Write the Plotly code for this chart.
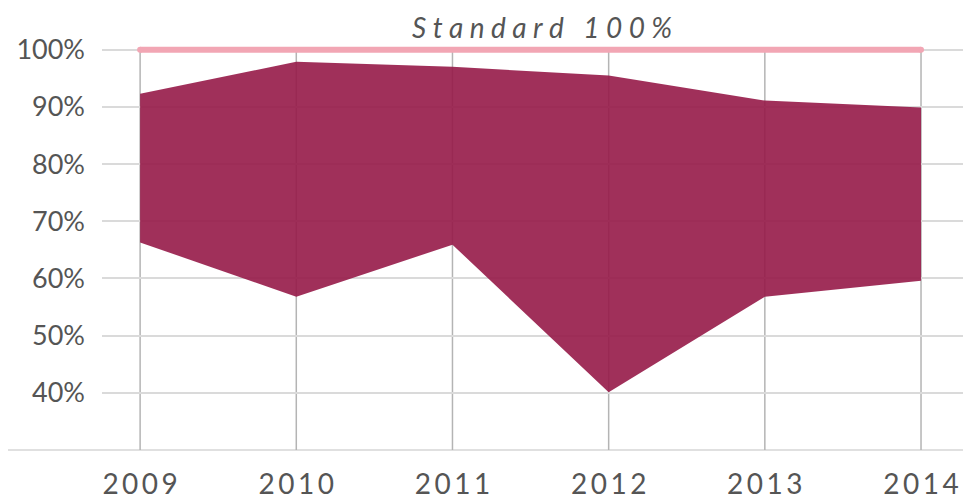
import plotly.graph_objects as go

years = [2009, 2010, 2011, 2012, 2013, 2014]
upper = [92.3, 97.9, 97.0, 95.5, 91.1, 89.9]
lower = [66.3, 56.8, 65.9, 40.1, 56.8, 59.6]
standard = 100
y_ticks = [40, 50, 60, 70, 80, 90, 100]
y_min = 30

TS1 = "\u2009"
TS2 = "\u2009\u2009"
x_ticktext = [TS1.join(str(y)) for y in years]
y_ticktext = [f"{v}%" for v in y_ticks]
std_label = TS2.join("Standard") + TS2 + " " + TS2 + TS2.join("100%")

fill_color = "rgba(150,26,72,0.9)"
pink = "#f2a6b4"
text_color = "#555555"

W, H = 963, 491
ML, MR, MT, MB = 94, 5, 36, 49

fig = go.Figure()
fig.add_trace(go.Scatter(x=years, y=upper, mode="lines", line=dict(width=0, color=fill_color),
                         hoverinfo="skip", showlegend=False))
fig.add_trace(go.Scatter(x=years, y=lower, mode="lines", line=dict(width=0, color=fill_color),
                         fill="tonexty", fillcolor=fill_color, showlegend=False))
fig.add_trace(go.Scatter(x=[years[0], years[-1]], y=[standard, standard], mode="lines+markers",
                         line=dict(width=6, color=pink), marker=dict(size=6, color=pink),
                         showlegend=False, cliponaxis=False))

shapes = []
for yr in years:
    shapes.append(dict(type="line", xref="x", yref="y", x0=yr, x1=yr, y0=y_min, y1=standard,
                       line=dict(color="#b4b4b4", width=1.5), layer="below"))
# baseline extending to the left edge
shapes.append(dict(type="line", xref="paper", yref="paper", x0=-ML / (W - ML - MR), x1=1, y0=0, y1=0,
                   line=dict(color="#d6d6d6", width=1.5), layer="below"))

fig.update_layout(
    width=W, height=H,
    margin=dict(l=ML, r=MR, t=MT, b=MB, autoexpand=False),
    paper_bgcolor="white", plot_bgcolor="white",
    font=dict(family="Lato", color=text_color),
    shapes=shapes,
    xaxis=dict(range=[2008.756, 2014.288], showgrid=False, zeroline=False, showline=False,
               automargin=False,
               tickvals=years, ticktext=x_ticktext, tickfont=dict(size=28, family="Lato", color=text_color),
               ticks="", ticklabelstandoff=15),
    yaxis=dict(range=[y_min, 101], showgrid=True, gridcolor="#dadada", gridwidth=1.5,
               automargin=False,
               zeroline=False, showline=False, tickvals=y_ticks, ticktext=y_ticktext,
               tickfont=dict(size=27, family="Lato", color=text_color), ticks="",
               ticklabelstandoff=16),
    annotations=[dict(x=(years[0] + years[-1]) / 2, y=standard, xref="x", yref="y",
                      text=std_label, showarrow=False, xshift=11, yanchor="bottom", yshift=4,
                      font=dict(family="Lato", size=28, color=text_color, style="italic"))],
)

fig.write_html("out.html")
